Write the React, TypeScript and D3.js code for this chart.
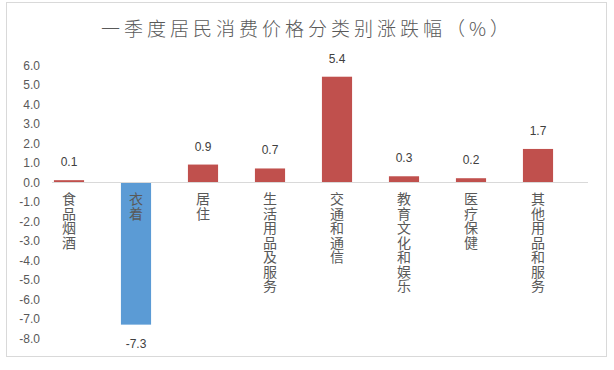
import { useEffect, useRef } from "react";
import * as d3 from "d3";

const categories = [
  "食品烟酒",
  "衣着",
  "居住",
  "生活用品及服务",
  "交通和通信",
  "教育文化和娱乐",
  "医疗保健",
  "其他用品和服务",
];
const changes = [0.1, -7.3, 0.9, 0.7, 5.4, 0.3, 0.2, 1.7];
const yTicks = [6, 5, 4, 3, 2, 1, 0, -1, -2, -3, -4, -5, -6, -7, -8];
const title = "一季度居民消费价格分类别涨跌幅（%）";

const W = 614;
const H = 370;
const cjk = "'Noto Sans CJK SC', 'Noto Sans', sans-serif";
const latin = "'Liberation Sans', Arial, sans-serif";

function App() {
  const ref = useRef<SVGSVGElement>(null);

  useEffect(() => {
    const svg = d3.select(ref.current);
    svg.selectAll("*").remove();

    svg.append("rect").attr("width", W).attr("height", H).attr("fill", "#ffffff");

    // chart frame
    svg
      .append("rect")
      .attr("x", 6.5)
      .attr("y", 2.5)
      .attr("width", 600)
      .attr("height", 354)
      .attr("fill", "#ffffff")
      .attr("stroke", "#d9d9d9");

    svg
      .append("text")
      .attr("x", 307)
      .attr("y", 36)
      .attr("text-anchor", "middle")
      .attr("font-family", cjk)
      .attr("font-size", 19)
      .attr("font-weight", 300)
      .attr("letter-spacing", 4)
      .attr("fill", "#595959")
      .text(title);

    const x = d3
      .scaleBand<string>()
      .domain(categories)
      .range([35.5, 571.5])
      .paddingInner(0.55)
      .paddingOuter(0.275);
    const y = d3.scaleLinear().domain([-8, 6]).range([338.3, 65]);

    // y tick labels
    svg
      .append("g")
      .selectAll("text")
      .data(yTicks)
      .join("text")
      .attr("x", 40)
      .attr("y", (d) => y(d) + 4.5)
      .attr("text-anchor", "end")
      .attr("font-family", latin)
      .attr("font-size", 12)
      .attr("fill", "#595959")
      .text((d) => d.toFixed(1));

    // bars
    svg
      .append("g")
      .selectAll("rect")
      .data(changes)
      .join("rect")
      .attr("x", (_, i) => x(categories[i])!)
      .attr("width", x.bandwidth())
      .attr("y", (d) => y(Math.max(0, d)))
      .attr("height", (d) => Math.abs(y(d) - y(0)))
      .attr("fill", (d) => (d < 0 ? "#5b9bd5" : "#c0504d"));

    // zero line
    svg
      .append("line")
      .attr("x1", 52)
      .attr("x2", 588)
      .attr("y1", Math.round(y(0)) + 0.5)
      .attr("y2", Math.round(y(0)) + 0.5)
      .attr("stroke", "#d9d9d9");

    // value labels
    svg
      .append("g")
      .selectAll("text")
      .data(changes)
      .join("text")
      .attr("x", (_, i) => x(categories[i])! + x.bandwidth() / 2)
      .attr("y", (d) => (d >= 0 ? y(d) - 14 : y(d) + 23))
      .attr("text-anchor", "middle")
      .attr("font-family", latin)
      .attr("font-size", 12)
      .attr("fill", "#404040")
      .text((d) => d.toFixed(1));

    // vertical category labels
    svg
      .append("g")
      .selectAll("text")
      .data(categories)
      .join("text")
      .attr("x", (d) => x(d)! + x.bandwidth() / 2)
      .attr("y", 192)
      .attr("writing-mode", "tb")
      .style("writing-mode", "vertical-rl")
      .attr("letter-spacing", 0.5)
      .attr("font-family", cjk)
      .attr("font-size", 14)
      .attr("fill", "#595959")
      .text((d) => d);
  }, []);

  return (
    <div style={{ position: "absolute", left: 0, top: 0 }}>
      <svg ref={ref} width={W} height={H} style={{ display: "block" }} />
    </div>
  );
}

export default App;
